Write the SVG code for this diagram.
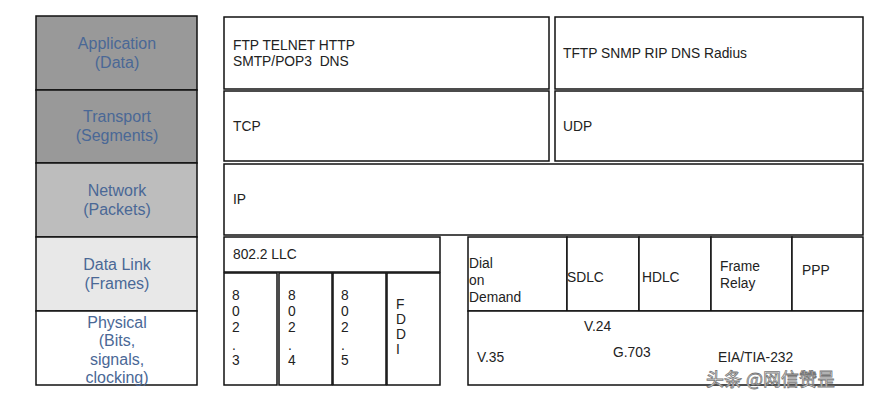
<svg xmlns="http://www.w3.org/2000/svg" width="879" height="400" viewBox="0 0 879 400">
<style>
.b{stroke:#111;stroke-width:1.5;fill:#fff}
.l{font-family:"Liberation Sans",Arial,sans-serif;font-size:16px;fill:#4a6896;text-anchor:middle}
.t{font-family:"Liberation Sans",Arial,sans-serif;font-size:13.8px;fill:#222}
.w{font-family:"Noto Sans CJK SC","Liberation Sans",sans-serif;font-size:18px;fill:#fff;stroke:#777;stroke-width:0.8}
</style>
<rect width="879" height="400" fill="#fff"/>
<g id="layer-application"><rect class="b" x="36" y="16" width="161" height="74" style="fill:#999"/><text class="l" x="117" y="49">Application</text><text class="l" x="117" y="68">(Data)</text></g>
<g id="layer-transport"><rect class="b" x="36" y="90" width="161" height="73" style="fill:#999"/><text class="l" x="117" y="122">Transport</text><text class="l" x="117" y="141">(Segments)</text></g>
<g id="layer-network"><rect class="b" x="36" y="163" width="161" height="74" style="fill:#bdbdbd"/><text class="l" x="117" y="196">Network</text><text class="l" x="117" y="215">(Packets)</text></g>
<g id="layer-datalink"><rect class="b" x="36" y="237" width="161" height="74" style="fill:#e8e8e8"/><text class="l" x="117" y="270">Data Link</text><text class="l" x="117" y="289">(Frames)</text></g>
<g id="layer-physical"><rect class="b" x="36" y="311" width="161" height="74"/><text class="l" x="117" y="328">Physical</text><text class="l" x="117" y="346">(Bits,</text><text class="l" x="117" y="365">signals,</text><text class="l" x="117" y="383">clocking)</text></g>
<g id="app-tcp"><rect class="b" x="224" y="17" width="325" height="72"/><text class="t" x="233" y="50">FTP TELNET HTTP</text><text class="t" x="233" y="66" xml:space="preserve">SMTP/POP3  DNS</text></g>
<g id="app-udp"><rect class="b" x="555" y="17" width="308" height="72"/><text class="t" x="563" y="58">TFTP SNMP RIP DNS Radius</text></g>
<g id="tcp"><rect class="b" x="224" y="91" width="325" height="70"/><text class="t" x="233" y="131">TCP</text></g>
<g id="udp"><rect class="b" x="555" y="91" width="308" height="70"/><text class="t" x="563" y="131">UDP</text></g>
<g id="ip"><rect class="b" x="224" y="164" width="639" height="71"/><text class="t" x="233" y="204">IP</text></g>
<g id="llc"><rect class="b" x="224" y="237" width="216" height="35"/><text class="t" x="233" y="259">802.2 LLC</text></g>
<g id="e8023"><rect class="b" x="224" y="273" width="53" height="112"/><text class="t" x="232" y="300"><tspan x="232">8</tspan><tspan x="232" dy="16">0</tspan><tspan x="232" dy="16">2</tspan><tspan x="232" dy="18">.</tspan><tspan x="232" dy="15">3</tspan></text></g>
<g id="e8024"><rect class="b" x="279" y="273" width="53" height="112"/><text class="t" x="288" y="300"><tspan x="288">8</tspan><tspan x="288" dy="16">0</tspan><tspan x="288" dy="16">2</tspan><tspan x="288" dy="18">.</tspan><tspan x="288" dy="15">4</tspan></text></g>
<g id="e8025"><rect class="b" x="333" y="273" width="53" height="112"/><text class="t" x="341" y="300"><tspan x="341">8</tspan><tspan x="341" dy="16">0</tspan><tspan x="341" dy="16">2</tspan><tspan x="341" dy="18">.</tspan><tspan x="341" dy="15">5</tspan></text></g>
<g id="fddi"><rect class="b" x="387" y="273" width="53" height="112"/><text class="t" x="396" y="309"><tspan x="396">F</tspan><tspan x="396" dy="15">D</tspan><tspan x="396" dy="15">D</tspan><tspan x="396" dy="15">I</tspan></text></g>
<g id="dial"><rect class="b" x="468" y="237" width="99" height="74"/><text class="t" x="469" y="268"><tspan x="469">Dial</tspan><tspan x="469" dy="17">on</tspan><tspan x="469" dy="17">Demand</tspan></text></g>
<g id="sdlc"><rect class="b" x="567" y="237" width="72" height="74"/><text class="t" x="567" y="282">SDLC</text></g>
<g id="hdlc"><rect class="b" x="639" y="237" width="72" height="74"/><text class="t" x="642" y="282">HDLC</text></g>
<g id="framerelay"><rect class="b" x="711" y="237" width="81" height="74"/><text class="t" x="720" y="271"><tspan x="720">Frame</tspan><tspan x="720" dy="17">Relay</tspan></text></g>
<g id="ppp"><rect class="b" x="792" y="237" width="71" height="74"/><text class="t" x="802" y="275">PPP</text></g>
<g id="wan-physical"><rect class="b" x="468" y="311" width="395" height="74"/><text class="t" x="584" y="331">V.24</text><text class="t" x="477" y="362">V.35</text><text class="t" x="613" y="357">G.703</text><text class="t" x="718" y="362">EIA/TIA-232</text></g>
<g id="connectors"></g>
<text class="w" x="706" y="386">头条 @网信赞昰</text>
</svg>
